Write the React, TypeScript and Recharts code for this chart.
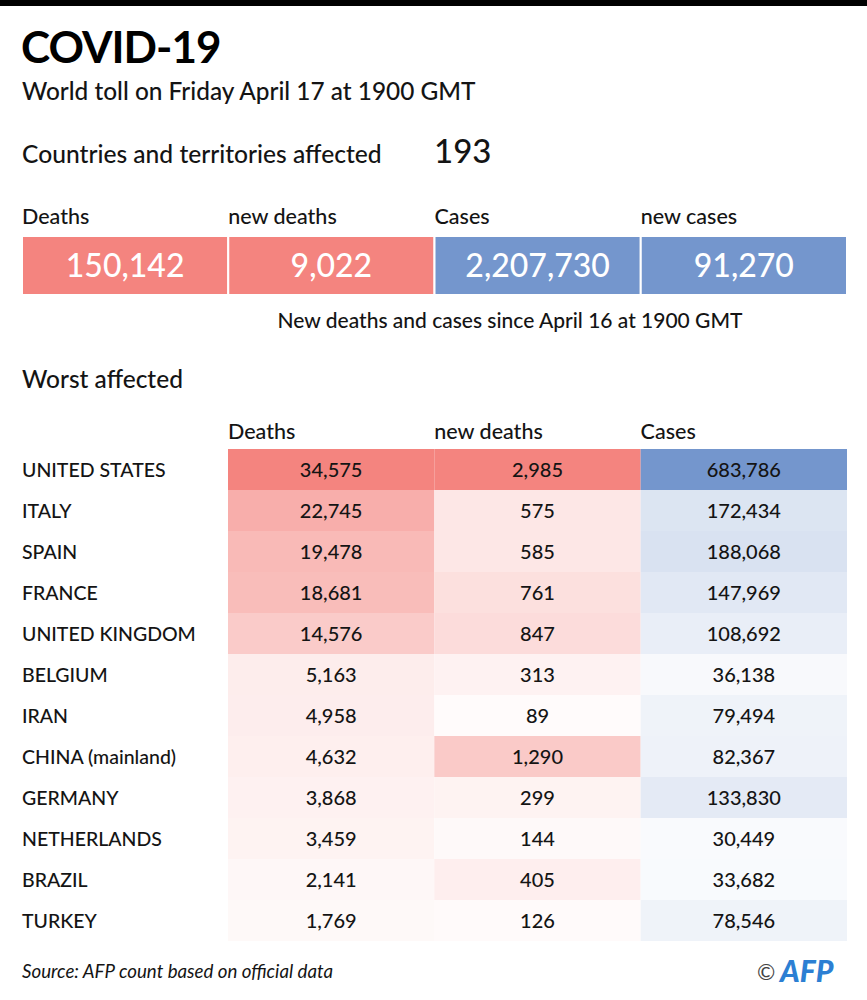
import { BarChart, Bar, XAxis, YAxis, Cell, LabelList } from "recharts";

const countries = [
  "UNITED STATES",
  "ITALY",
  "SPAIN",
  "FRANCE",
  "UNITED KINGDOM",
  "BELGIUM",
  "IRAN",
  "CHINA (mainland)",
  "GERMANY",
  "NETHERLANDS",
  "BRAZIL",
  "TURKEY",
];
const deaths = [34575, 22745, 19478, 18681, 14576, 5163, 4958, 4632, 3868, 3459, 2141, 1769];
const newDeaths = [2985, 575, 585, 761, 847, 313, 89, 1290, 299, 144, 405, 126];
const cases = [683786, 172434, 188068, 147969, 108692, 36138, 79494, 82367, 133830, 30449, 33682, 78546];

const totalLabels = ["Deaths", "new deaths", "Cases", "new cases"];
const totalValues = [150142, 9022, 2207730, 91270];
const tableHeaders = ["Deaths", "new deaths", "Cases"];

const RED = [244, 132, 127];
const BLUE = [116, 150, 205];
const FONT = "Lato, 'Noto Sans', sans-serif";
const INK = "#141414";

// blend white -> base by t (0..1)
const shade = (base: number[], t: number) => {
  const c = base.map((b) => Math.round(255 - (255 - b) * t));
  return `rgb(${c[0]},${c[1]},${c[2]})`;
};

const fmt = (v: any) => Number(v).toLocaleString("en-US");

const rows = countries.map((country, i) => ({
  country,
  deaths: deaths[i],
  newDeaths: newDeaths[i],
  cases: cases[i],
}));

const totals = [
  {
    name: "world",
    deaths: totalValues[0],
    newDeaths: totalValues[1],
    cases: totalValues[2],
    newCases: totalValues[3],
  },
];

const maxD = Math.max(...deaths);
const maxN = Math.max(...newDeaths);
const maxC = Math.max(...cases);

const one = () => 1;

const CountryTick = (props: any) => {
  const { y, payload } = props;
  return (
    <text x={22} y={y} dy={7} fontSize={19.5} fontWeight={500} fill={INK} fontFamily={FONT}>
      {payload.value}
    </text>
  );
};

const cellLabel = { fontSize: 20, fill: INK, fontFamily: FONT, fontWeight: 500 };
const totalLabel = { fontSize: 32, fill: "#fff", fontFamily: FONT, fontWeight: 500 };

export default function App() {
  return (
    <div
      style={{
        position: "absolute",
        left: 0,
        top: 0,
        width: 867,
        height: 1000,
        background: "#fff",
        fontFamily: FONT,
      }}
    >
      <svg width={867} height={1000} style={{ position: "absolute", left: 0, top: 0 }}>
        <rect x={0} y={0} width={867} height={6} fill="#000" />
        <text x={21} y={63} fontSize={44} fontWeight={700} letterSpacing={-1} fill="#000">
          COVID-19
        </text>
        <g fontWeight={500} fill={INK}>
          <text x={22} y={100} fontSize={24.4}>
            World toll on Friday April 17 at 1900 GMT
          </text>
          <text x={22} y={163} fontSize={24.6}>
            Countries and territories affected
          </text>
          <text x={434} y={163} fontSize={33}>
            193
          </text>
          {totalLabels.map((t, i) => (
            <text key={t} x={22 + i * 206.25} y={224} fontSize={21.5}>
              {t}
            </text>
          ))}
          <text x={510} y={328} fontSize={21}>
            <tspan textAnchor="middle">New deaths and cases since April 16 at 1900 GMT</tspan>
          </text>
          <text x={22} y={388} fontSize={24.5}>
            Worst affected
          </text>
          {tableHeaders.map((t, i) => (
            <text key={t} x={228 + i * 206.3} y={439} fontSize={21.5}>
              {t}
            </text>
          ))}
          <text x={22} y={978} fontSize={18.7} fontStyle="italic" fontWeight={400}>
            Source: AFP count based on official data
          </text>
        </g>
        <text x={757} y={980} fontSize={22} fill="#444">
          ©
        </text>
        <text x={780} y={982} fontSize={30} fontWeight={900} fontStyle="italic" fill="#2c7fd3">
          AFP
        </text>
      </svg>

      <div style={{ position: "absolute", left: 22, top: 236 }}>
        <BarChart
          width={825}
          height={59}
          data={totals}
          layout="vertical"
          margin={{ top: 0, right: 0, bottom: 0, left: 0 }}
          barCategoryGap={0}
        >
          <XAxis type="number" domain={[0, 4]} hide />
          <YAxis type="category" dataKey="name" hide />
          <Bar dataKey={one} stackId="t" fill={shade(RED, 1)} stroke="#fff" strokeWidth={2} isAnimationActive={false}>
            <LabelList dataKey="deaths" position="center" formatter={fmt} style={totalLabel} />
          </Bar>
          <Bar dataKey={one} stackId="t" fill={shade(RED, 1)} stroke="#fff" strokeWidth={2} isAnimationActive={false}>
            <LabelList dataKey="newDeaths" position="center" formatter={fmt} style={totalLabel} />
          </Bar>
          <Bar dataKey={one} stackId="t" fill={shade(BLUE, 1)} stroke="#fff" strokeWidth={2} isAnimationActive={false}>
            <LabelList dataKey="cases" position="center" formatter={fmt} style={totalLabel} />
          </Bar>
          <Bar dataKey={one} stackId="t" fill={shade(BLUE, 1)} stroke="#fff" strokeWidth={2} isAnimationActive={false}>
            <LabelList dataKey="newCases" position="center" formatter={fmt} style={totalLabel} />
          </Bar>
        </BarChart>
      </div>

      <div style={{ position: "absolute", left: 0, top: 449 }}>
        <BarChart
          width={867}
          height={492}
          data={rows}
          layout="vertical"
          margin={{ top: 0, right: 20, bottom: 0, left: 0 }}
          barCategoryGap={0}
        >
          <XAxis type="number" domain={[0, 3]} hide />
          <YAxis
            type="category"
            dataKey="country"
            width={228}
            tickLine={false}
            axisLine={false}
            tick={<CountryTick />}
            interval={0}
          />
          <Bar dataKey={one} stackId="r" isAnimationActive={false}>
            {rows.map((r, i) => (
              <Cell key={i} fill={shade(RED, r.deaths / maxD)} />
            ))}
            <LabelList dataKey="deaths" position="center" formatter={fmt} style={cellLabel} />
          </Bar>
          <Bar dataKey={one} stackId="r" isAnimationActive={false}>
            {rows.map((r, i) => (
              <Cell key={i} fill={shade(RED, r.newDeaths / maxN)} />
            ))}
            <LabelList dataKey="newDeaths" position="center" formatter={fmt} style={cellLabel} />
          </Bar>
          <Bar dataKey={one} stackId="r" isAnimationActive={false}>
            {rows.map((r, i) => (
              <Cell key={i} fill={shade(BLUE, r.cases / maxC)} />
            ))}
            <LabelList dataKey="cases" position="center" formatter={fmt} style={cellLabel} />
          </Bar>
        </BarChart>
      </div>
    </div>
  );
}
